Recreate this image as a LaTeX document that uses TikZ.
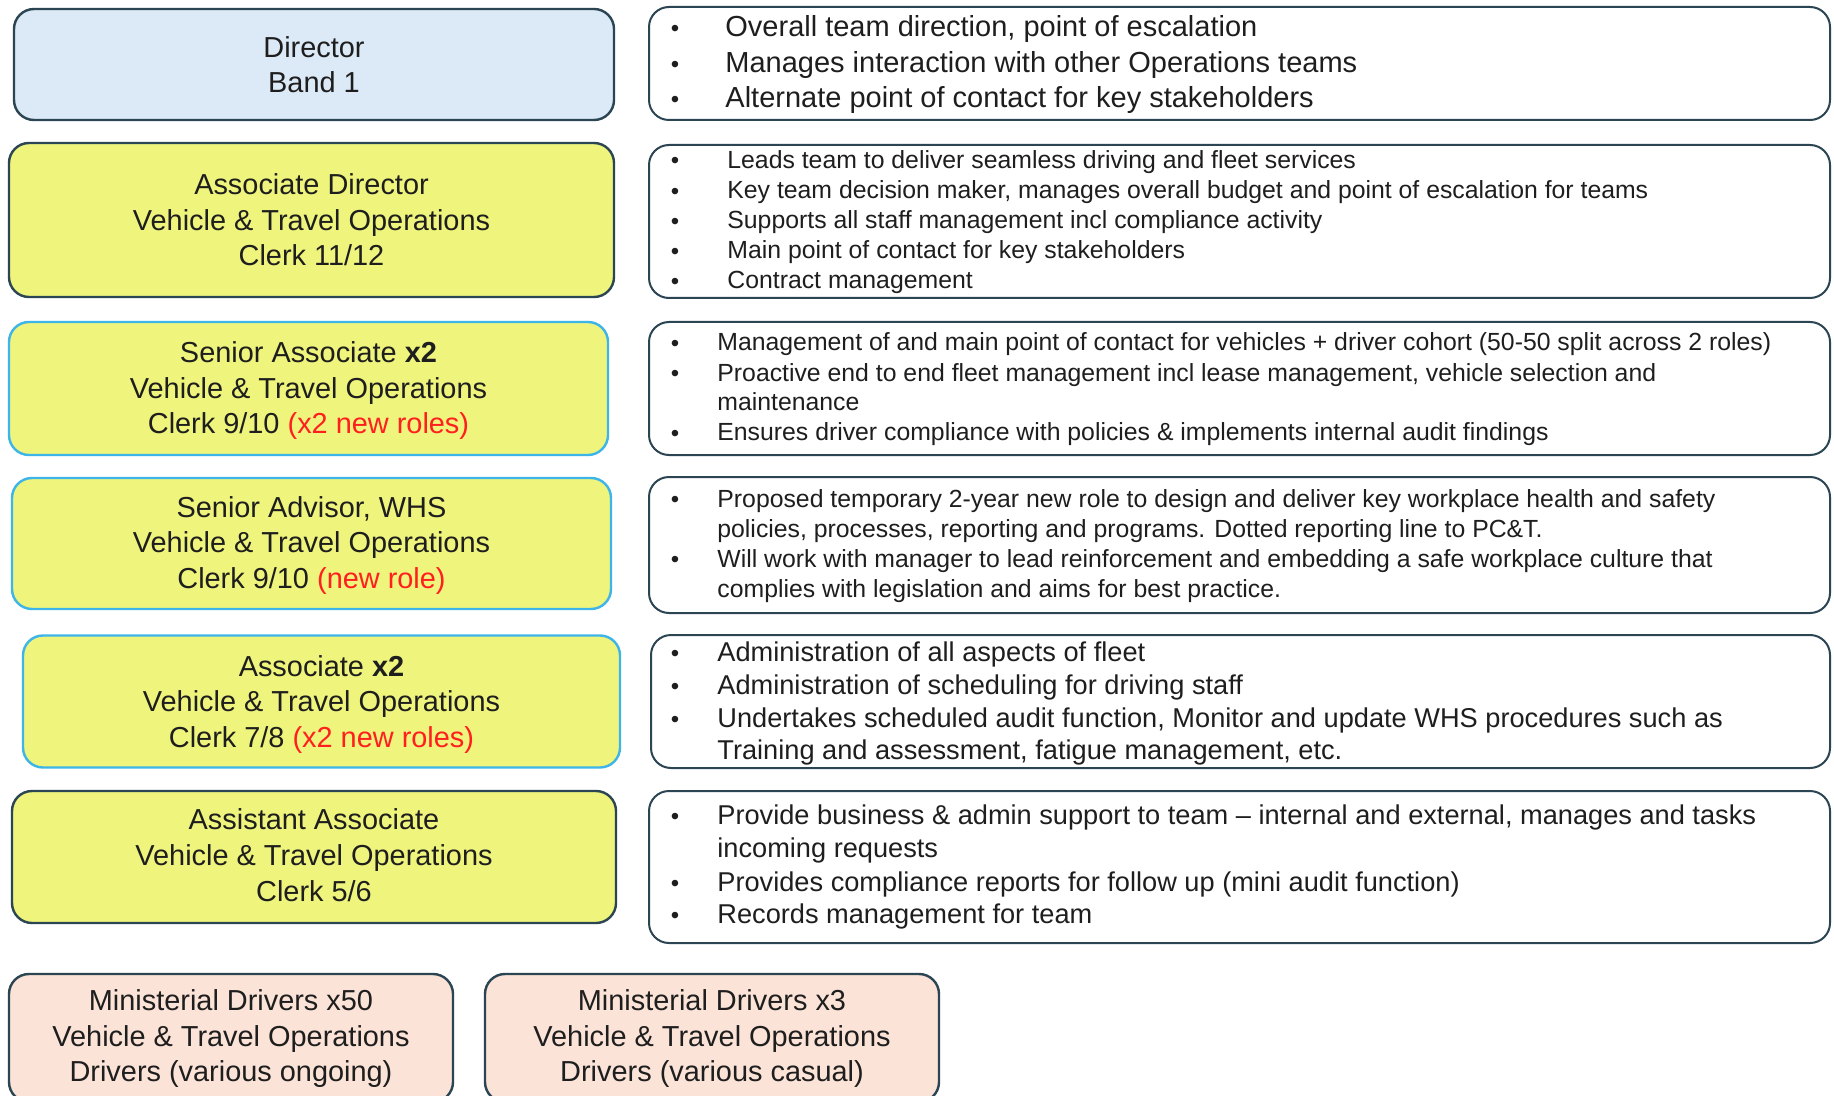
\documentclass[tikz,border=0pt]{standalone}
\usepackage{fontspec}
\setmainfont{Liberation Sans}

\definecolor{ink}{HTML}{1E1E1E}
\definecolor{edge}{HTML}{2B4552}
\definecolor{cyanedge}{HTML}{3DB5E8}
\definecolor{bluefill}{HTML}{DCE9F6}
\definecolor{yellowfill}{HTML}{EFF47C}
\definecolor{peachfill}{HTML}{FBE3D7}
\definecolor{newred}{HTML}{FF1F1F}

\tikzset{
  role/.style={draw=edge, line width=1.2pt, rounded corners=10pt, inner sep=0pt},
  roletext/.style={align=center, text=ink, inner sep=0pt,
    font=\fontsize{14.45}{17.85}\selectfont},
  dutybox/.style={draw=edge, line width=1pt, rounded corners=10pt, fill=white, inner sep=0pt},
  itemA/.style={anchor=mid west, inner sep=0pt, text=ink, yshift=-2.3pt,
    font=\fontsize{14.5}{17}\selectfont},
  itemB/.style={anchor=mid west, inner sep=0pt, text=ink, yshift=-1.9pt,
    font=\fontsize{12.4}{15}\selectfont},
  itemC/.style={anchor=mid west, inner sep=0pt, text=ink, yshift=-2.3pt,
    font=\fontsize{13.6}{16}\selectfont},
  dot/.style={inner sep=0pt, text=ink, yshift=-2pt, font=\fontsize{12}{13}\selectfont},
}

% one bullet line: name, style, y, text start x, text
\newcommand{\dutyline}[5]{%
  \node[dot] (#1b) at (675,#3) {•};
  \node[#2] (#1) at (#4,#3) {#5};}
% continuation line of a bullet, no mark
\newcommand{\dutycont}[5]{%
  \node[#2] (#1) at (#4,#3) {#5};}

\begin{document}
\begin{tikzpicture}[x=0.5pt, y=-0.5pt]
\useasboundingbox (0,0) rectangle (1834,1096);
\clip (0,0) rectangle (1834,1096);
\fill[white] (0,0) rectangle (1834,1096);

% ---------- role boxes (left column) ----------
\node[role, fill=bluefill, minimum width=300pt, minimum height=55.5pt] (dir) at (314,64.5) {};
\node[role, fill=yellowfill, minimum width=302.5pt, minimum height=77pt] (ad) at (311.5,220) {};
\node[role, draw=cyanedge, fill=yellowfill, minimum width=299.5pt, minimum height=66.5pt] (sa) at (308.5,388.5) {};
\node[role, draw=cyanedge, fill=yellowfill, minimum width=299.5pt, minimum height=65.5pt] (sw) at (311.5,543.5) {};
\node[role, draw=cyanedge, fill=yellowfill, minimum width=298.5pt, minimum height=66pt] (as) at (321.5,701.5) {};
\node[role, fill=yellowfill, minimum width=302pt, minimum height=66pt] (aa) at (314,857) {};
\node[role, fill=peachfill, minimum width=222pt, minimum height=64pt] (md1) at (231,1038) {};
\node[role, fill=peachfill, minimum width=227pt, minimum height=64pt] (md2) at (712,1038) {};

\node[roletext] (dirt) at (314,68) {\strut Director\\Band 1\strut};
\node[roletext] (adt) at (311.5,223) {\strut Associate Director\\Vehicle \& Travel Operations\\Clerk 11/12\strut};
\node[roletext] (sat) at (308.5,391) {\strut Senior Associate \textbf{x2}\\Vehicle \& Travel Operations\\Clerk 9/10 \textcolor{newred}{(x2 new roles)}\strut};
\node[roletext] (swt) at (311.5,545.6) {\strut Senior Advisor, WHS\\Vehicle \& Travel Operations\\Clerk 9/10 \textcolor{newred}{(new role)}\strut};
\node[roletext] (ast) at (321.5,704.7) {\strut Associate \textbf{x2}\\Vehicle \& Travel Operations\\Clerk 7/8 \textcolor{newred}{(x2 new roles)}\strut};
\node[roletext] (aat) at (314,858.4) {\strut Assistant Associate\\Vehicle \& Travel Operations\\Clerk 5/6\strut};
\node[roletext] (md1t) at (231,1039) {\strut Ministerial Drivers x50\\Vehicle \& Travel Operations\\Drivers (various ongoing)\strut};
\node[roletext] (md2t) at (712,1039) {\strut Ministerial Drivers x3\\Vehicle \& Travel Operations\\Drivers (various casual)\strut};

% ---------- duty boxes (right column) ----------
\node[dutybox, minimum width=590.5pt, minimum height=56.5pt] (r1) at (1239.5,63.5) {};
\node[dutybox, minimum width=590.5pt, minimum height=76.5pt] (r2) at (1239.5,221.5) {};
\node[dutybox, minimum width=590.5pt, minimum height=66.5pt] (r3) at (1239.5,388.5) {};
\node[dutybox, minimum width=590.5pt, minimum height=68pt] (r4) at (1239.5,545) {};
\node[dutybox, minimum width=589.5pt, minimum height=66.5pt] (r5) at (1240.5,701.5) {};
\node[dutybox, minimum width=590.5pt, minimum height=76pt] (r6) at (1239.5,867) {};

% Director duties
\dutyline{ra1}{itemA}{27}{725}{Overall team direction, point of escalation}
\dutyline{ra2}{itemA}{63}{725}{Manages interaction with other Operations teams}
\dutyline{ra3}{itemA}{98}{725}{Alternate point of contact for key stakeholders}

% Associate Director duties
\dutyline{rb1}{itemB}{159}{727}{Leads team to deliver seamless driving and fleet services}
\dutyline{rb2}{itemB}{189.5}{727}{Key team decision maker, manages overall budget and point of escalation for teams}
\dutyline{rb3}{itemB}{219.5}{727}{Supports all staff management incl compliance activity}
\dutyline{rb4}{itemB}{249.5}{727}{Main point of contact for key stakeholders}
\dutyline{rb5}{itemB}{279.5}{727}{Contract management}

% Senior Associate duties
\dutyline{rc1}{itemB}{341.5}{717}{Management of and main point of contact for vehicles + driver cohort (50-50 split across 2 roles)}
\dutyline{rc2}{itemB}{372}{717}{Proactive end to end fleet management incl lease management, vehicle selection and}
\dutycont{rc3}{itemB}{401.5}{717}{maintenance}
\dutyline{rc4}{itemB}{431.5}{717}{Ensures driver compliance with policies \& implements internal audit findings}

% Senior Advisor duties
\dutyline{rd1}{itemB}{498}{717}{Proposed temporary 2-year new role to design and deliver key workplace health and safety}
\dutycont{rd2}{itemB}{528.5}{717}{policies, processes, reporting and programs. Dotted reporting line to PC\&T.}
\dutyline{rd3}{itemB}{558}{717}{Will work with manager to lead reinforcement and embedding a safe workplace culture that}
\dutycont{rd4}{itemB}{588}{717}{complies with legislation and aims for best practice.}

% Associate duties
\dutyline{re1}{itemC}{651.5}{717}{Administration of all aspects of fleet}
\dutyline{re2}{itemC}{684.5}{717}{Administration of scheduling for driving staff}
\dutyline{re3}{itemC}{718}{717}{Undertakes scheduled audit function, Monitor and update WHS procedures such as}
\dutycont{re4}{itemC}{750}{717}{Training and assessment, fatigue management, etc.}

% Assistant Associate duties
\dutyline{rf1}{itemC}{815}{717}{Provide business \& admin support to team – internal and external, manages and tasks}
\dutycont{rf2}{itemC}{848}{717}{incoming requests}
\dutyline{rf3}{itemC}{881.5}{717}{Provides compliance reports for follow up (mini audit function)}
\dutyline{rf4}{itemC}{913.5}{717}{Records management for team}

\end{tikzpicture}
\end{document}
